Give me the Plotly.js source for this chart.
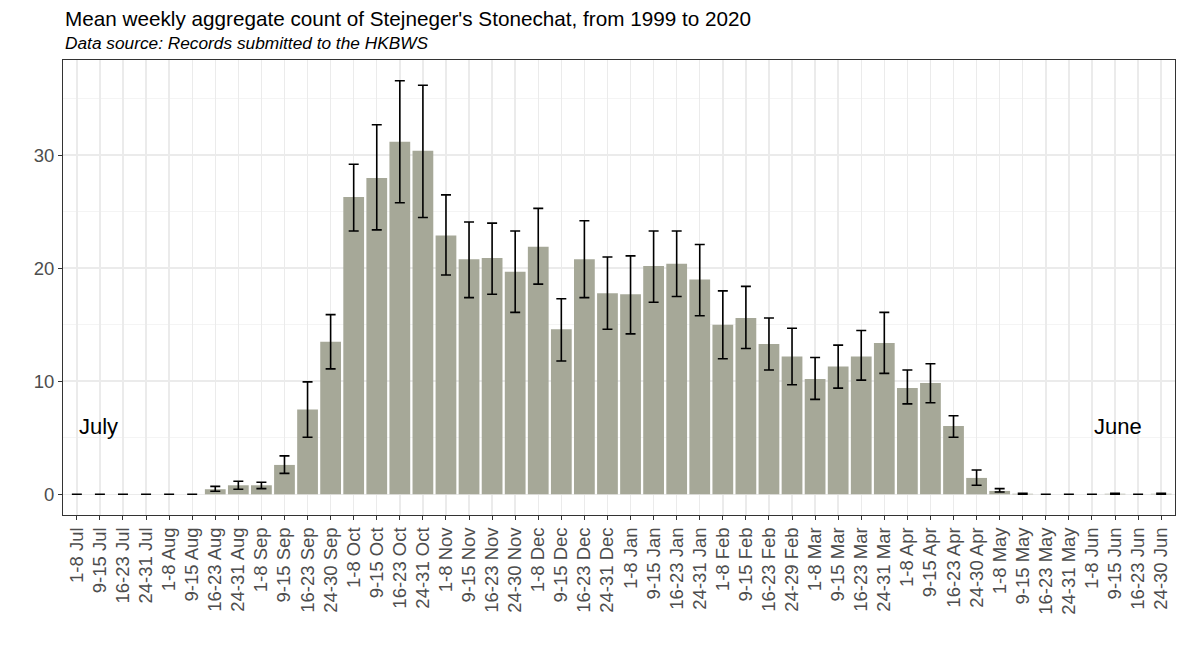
<!DOCTYPE html>
<html>
<head>
<meta charset="utf-8">
<script src="https://cdn.plot.ly/plotly-3.0.1.min.js"></script>
<style>html,body{margin:0;padding:0;background:#fff;}#chart{width:1184px;height:646px;}</style>
</head>
<body>
<div id="chart"></div>
<script>
const weeks = ["1-8 Jul","9-15 Jul","16-23 Jul","24-31 Jul","1-8 Aug","9-15 Aug","16-23 Aug","24-31 Aug",
  "1-8 Sep","9-15 Sep","16-23 Sep","24-30 Sep","1-8 Oct","9-15 Oct","16-23 Oct","24-31 Oct",
  "1-8 Nov","9-15 Nov","16-23 Nov","24-30 Nov","1-8 Dec","9-15 Dec","16-23 Dec","24-31 Dec",
  "1-8 Jan","9-15 Jan","16-23 Jan","24-31 Jan","1-8 Feb","9-15 Feb","16-23 Feb","24-29 Feb",
  "1-8 Mar","9-15 Mar","16-23 Mar","24-31 Mar","1-8 Apr","9-15 Apr","16-23 Apr","24-30 Apr",
  "1-8 May","9-15 May","16-23 May","24-31 May","1-8 Jun","9-15 Jun","16-23 Jun","24-30 Jun"];

const meanCount = [0,0,0,0,0,0,0.45,0.8,
  0.8,2.6,7.5,13.5,26.3,28.0,31.2,30.4,
  22.9,20.8,20.9,19.7,21.9,14.6,20.8,17.8,
  17.7,20.2,20.4,19.0,15.0,15.6,13.3,12.2,
  10.2,11.3,12.2,13.4,9.4,9.85,6.05,1.45,
  0.3,0.05,0,0,0,0.05,0,0.05];

const upperBound = [0,0,0,0,0,0,0.7,1.15,
  1.07,3.4,9.95,15.9,29.2,32.7,36.6,36.2,
  26.5,24.1,24.0,23.3,25.3,17.3,24.2,21.0,
  21.1,23.3,23.3,22.1,18.0,18.4,15.6,14.7,
  12.1,13.2,14.5,16.1,11.0,11.55,6.95,2.15,
  0.5,0.1,0,0,0,0.1,0,0.1];

const lowerBound = [0,0,0,0,0,0,0.27,0.45,
  0.5,1.85,5.05,11.1,23.3,23.4,25.8,24.5,
  19.4,17.4,17.7,16.1,18.6,11.8,17.4,14.6,
  14.2,17.0,17.5,15.8,12.0,12.9,11.0,9.7,
  8.4,9.4,10.1,10.7,8.0,8.1,5.05,0.8,
  0.2,0.0,0,0,0,0.0,0,0.0];

const titleText = "Mean weekly aggregate count of Stejneger's Stonechat, from 1999 to 2020";
const subtitleText = "Data source: Records submitted to the HKBWS";

const errPlus = meanCount.map((m, i) => upperBound[i] - m);
const errMinus = meanCount.map((m, i) => m - lowerBound[i]);

const trace = {
  type: 'bar',
  x: weeks,
  y: meanCount,
  marker: {color: '#a6a898', line: {width: 0}},
  error_y: {
    type: 'data', symmetric: false,
    array: errPlus, arrayminus: errMinus,
    color: '#000000', thickness: 1.6, width: 5
  },
  hoverinfo: 'x+y'
};

const layout = {
  width: 1184, height: 646,
  margin: {l: 63, r: 8.5, t: 60, b: 131.3, pad: 0},
  paper_bgcolor: '#ffffff', plot_bgcolor: '#ffffff',
  font: {family: 'Liberation Sans, Arial, sans-serif', color: '#000'},
  bargap: 0.1,
  showlegend: false,
  xaxis: {
    type: 'category', categoryorder: 'array', categoryarray: weeks,
    range: [-0.6, 47.6],
    tickangle: -90,
    tickfont: {size: 18.5, color: '#4d4d4d'},
    ticks: 'outside', ticklen: 4, tickcolor: '#333333', tickwidth: 1,
    showgrid: true, gridcolor: '#ebebeb', gridwidth: 1.4,
    showline: true, linecolor: '#333333', linewidth: 1, mirror: true,
    zeroline: false, fixedrange: true
  },
  yaxis: {
    range: [-1.83, 38.43],
    tickvals: [0, 10, 20, 30],
    ticktext: ['0', '10', '20', '30'],
    tickfont: {size: 18.5, color: '#4d4d4d'},
    ticks: 'outside', ticklen: 4, tickcolor: '#333333', tickwidth: 1,
    showgrid: true, gridcolor: '#ebebeb', gridwidth: 1.6,
    minor: {tickvals: [5, 15, 25, 35], showgrid: true, gridcolor: '#f4f4f4', gridwidth: 1, ticks: ''},
    showline: true, linecolor: '#333333', linewidth: 1, mirror: true,
    zeroline: false, fixedrange: true
  },
  annotations: [
    {text: titleText, xref: 'paper', yref: 'paper', x: 0, y: 1 + 41/454.6,
     xanchor: 'left', yanchor: 'middle', showarrow: false,
     font: {size: 20.7, color: '#000'}},
    {text: '<i>' + subtitleText + '</i>', xref: 'paper', yref: 'paper', x: 0, y: 1 + 16.5/454.6,
     xanchor: 'left', yanchor: 'middle', showarrow: false,
     font: {size: 17.3, color: '#000'}},
    {text: 'July', xref: 'x', yref: 'y', x: 0, y: 6, xanchor: 'left', yanchor: 'middle',
     showarrow: false, font: {size: 22, color: '#000'}},
    {text: 'June', xref: 'x', yref: 'y', x: 44, y: 6, xanchor: 'left', yanchor: 'middle',
     showarrow: false, font: {size: 22, color: '#000'}}
  ]
};

Plotly.newPlot('chart', [trace], layout, {displayModeBar: false, staticPlot: true});
</script>
</body>
</html>
